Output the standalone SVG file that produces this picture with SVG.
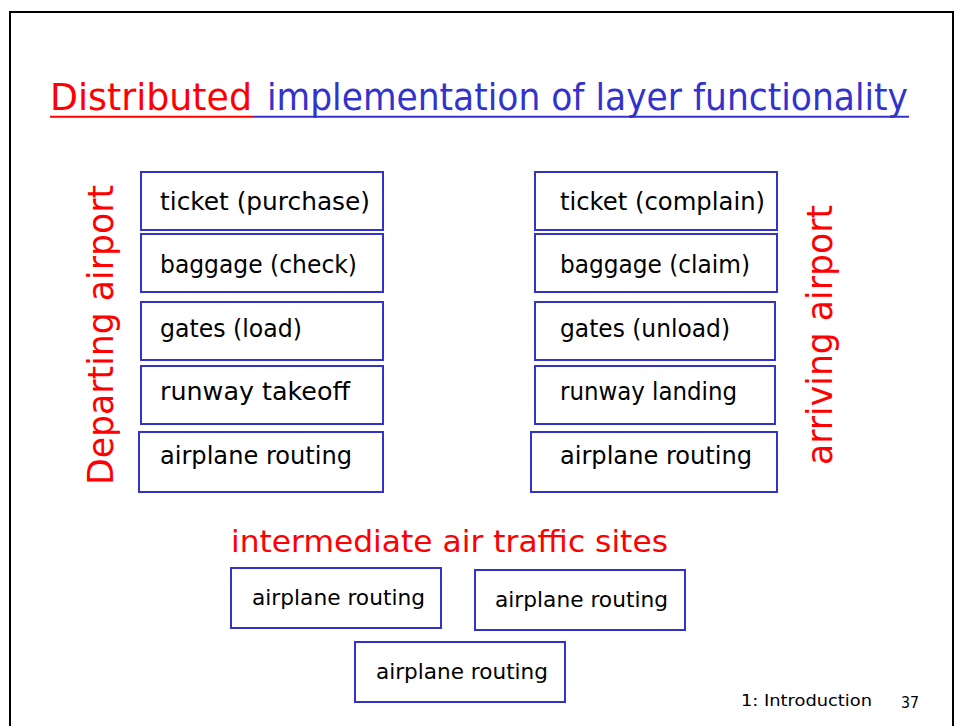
<svg xmlns="http://www.w3.org/2000/svg" width="956" height="726" viewBox="0 0 956 726">
<style>
.bx{fill:#fff;stroke:#3333cc;stroke-width:2}
.t{font-family:"DejaVu Sans","Liberation Sans",sans-serif;font-size:24px;fill:#000}
.ts{font-family:"DejaVu Sans","Liberation Sans",sans-serif;font-size:21.5px;fill:#000}
.red{font-family:"DejaVu Sans","Liberation Sans",sans-serif;fill:#ff0000}
.ttl{font-family:"DejaVu Sans Condensed","DejaVu Sans","Liberation Sans",sans-serif;font-size:38px}
.ft{font-family:"DejaVu Sans","Liberation Sans",sans-serif;font-size:16px;fill:#000}
</style>
<rect x="0" y="0" width="956" height="726" fill="#fff"/>
<path d="M10 727V12H953V727" fill="none" stroke="#000" stroke-width="2"/>
<g id="title">
<text class="ttl" x="50" y="110" fill="#ff0000" textLength="202" lengthAdjust="spacingAndGlyphs">Distributed</text>
<text class="ttl" x="267" y="110" fill="#3333cc" textLength="641" lengthAdjust="spacingAndGlyphs">implementation of layer functionality</text>
<line x1="50" y1="116.7" x2="253" y2="116.7" stroke="#ff0000" stroke-width="2"/>
<line x1="253" y1="116.7" x2="909" y2="116.7" stroke="#3333cc" stroke-width="2"/>
</g>
<g id="departing-label"><text class="red" font-size="35" transform="translate(113,485) rotate(-90)" textLength="300" lengthAdjust="spacingAndGlyphs">Departing airport</text></g>
<g id="arriving-label"><text class="red" font-size="35" transform="translate(832,465) rotate(-90)" textLength="260" lengthAdjust="spacingAndGlyphs">arriving airport</text></g>
<g id="dep-ticket"><rect class="bx" x="141" y="172" width="242" height="58"/><text class="t" x="160" y="210" textLength="210" lengthAdjust="spacingAndGlyphs">ticket (purchase)</text></g>
<g id="dep-baggage"><rect class="bx" x="141" y="234" width="242" height="58"/><text class="t" x="160" y="273" textLength="197" lengthAdjust="spacingAndGlyphs">baggage (check)</text></g>
<g id="dep-gates"><rect class="bx" x="141" y="302" width="242" height="58"/><text class="t" x="160" y="337" textLength="142" lengthAdjust="spacingAndGlyphs">gates (load)</text></g>
<g id="dep-runway"><rect class="bx" x="141" y="366" width="242" height="58"/><text class="t" x="160" y="400" textLength="190" lengthAdjust="spacingAndGlyphs">runway takeoff</text></g>
<g id="dep-routing"><rect class="bx" x="139" y="432" width="244" height="60"/><text class="t" x="160" y="464" textLength="192" lengthAdjust="spacingAndGlyphs">airplane routing</text></g>
<g id="arr-ticket"><rect class="bx" x="535" y="172" width="242" height="58"/><text class="t" x="560" y="210" textLength="205" lengthAdjust="spacingAndGlyphs">ticket (complain)</text></g>
<g id="arr-baggage"><rect class="bx" x="535" y="234" width="242" height="58"/><text class="t" x="560" y="273" textLength="190" lengthAdjust="spacingAndGlyphs">baggage (claim)</text></g>
<g id="arr-gates"><rect class="bx" x="535" y="302" width="240" height="58"/><text class="t" x="560" y="337" textLength="170" lengthAdjust="spacingAndGlyphs">gates (unload)</text></g>
<g id="arr-runway"><rect class="bx" x="535" y="366" width="240" height="58"/><text class="t" x="560" y="400" textLength="177" lengthAdjust="spacingAndGlyphs">runway landing</text></g>
<g id="arr-routing"><rect class="bx" x="531" y="432" width="246" height="60"/><text class="t" x="560" y="464" textLength="192" lengthAdjust="spacingAndGlyphs">airplane routing</text></g>
<g id="inter-label"><text class="red" font-size="30" x="231" y="552" textLength="437" lengthAdjust="spacingAndGlyphs">intermediate air traffic sites</text></g>
<g id="inter-a"><rect class="bx" x="231" y="568" width="210" height="60"/><text class="ts" x="252" y="605" textLength="173" lengthAdjust="spacingAndGlyphs">airplane routing</text></g>
<g id="inter-b"><rect class="bx" x="475" y="570" width="210" height="60"/><text class="ts" x="495" y="607" textLength="173" lengthAdjust="spacingAndGlyphs">airplane routing</text></g>
<g id="inter-c"><rect class="bx" x="355" y="642" width="210" height="60"/><text class="ts" x="376" y="679" textLength="172" lengthAdjust="spacingAndGlyphs">airplane routing</text></g>
<g id="connectors"></g>
<g id="footer">
<text class="ft" x="741" y="706" textLength="131" lengthAdjust="spacingAndGlyphs">1: Introduction</text>
<text class="ft" x="901" y="708" textLength="18" lengthAdjust="spacingAndGlyphs">37</text>
</g>
</svg>
